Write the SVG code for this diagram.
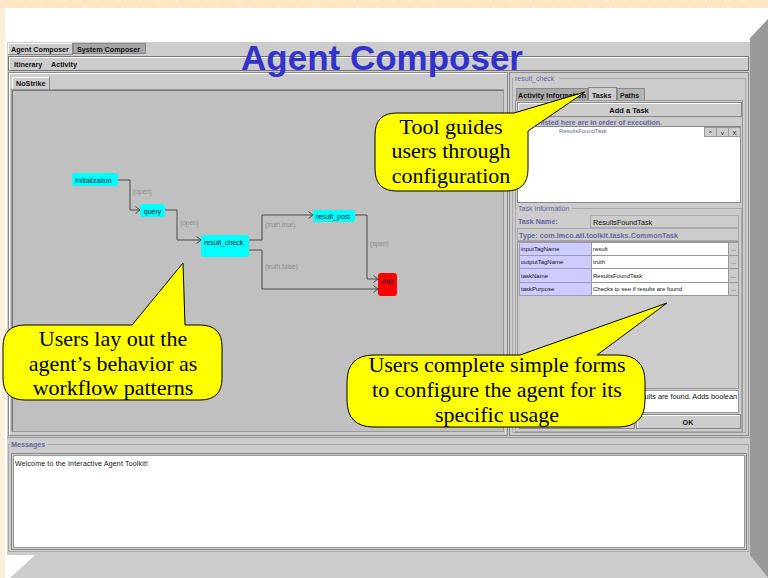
<svg xmlns="http://www.w3.org/2000/svg" width="768" height="578" viewBox="0 0 768 578">
<defs>
<style>
.ui{font-family:"Liberation Sans",Arial,sans-serif;fill:#111;}
.b{font-weight:bold;}
.blue{fill:#6666A0;}
.lbl{font-family:"Liberation Sans",Arial,sans-serif;font-size:6.5px;fill:#8c8c8c;}
.node text{font-family:"Liberation Sans",Arial,sans-serif;font-size:7px;fill:#102030;}
.cyan{fill:#00FFFF;}
.conn path{fill:none;stroke:#4a4a4a;stroke-width:1;}
.call{fill:#FFFF00;stroke:#000;stroke-width:1;}
.ct{font-family:"Liberation Serif","Times New Roman",serif;font-size:22px;fill:#000;text-anchor:middle;}
.pn{fill:#CCCCCC;stroke:#8a8a8a;stroke-width:1;}
.hl{fill:none;stroke:#FFFFFF;stroke-width:1;}
.cell1{fill:#CCCCFF;stroke:#9a9ab0;stroke-width:1;}
.cell2{fill:#FFFFFF;stroke:#999;stroke-width:1;}
.cell3{fill:#CCCCCC;stroke:#999;stroke-width:1;}
</style>
<pattern id="stripes" width="16" height="16" patternUnits="userSpaceOnUse" patternTransform="rotate(-35)">
<rect width="16" height="16" fill="#FFE6C2"/>
<rect width="1.5" height="16" fill="#FFEED8"/>
</pattern>
<marker id="arr" markerWidth="6" markerHeight="8" refX="5" refY="4" orient="auto" markerUnits="userSpaceOnUse">
<path d="M0.5,0.5 L5,4 L0.5,7.5" fill="none" stroke="#4a4a4a" stroke-width="1"/>
</marker>
</defs>

<!-- slide background -->
<rect width="768" height="578" fill="#FFF0DC"/>
<rect x="0" y="0" width="768" height="8" fill="url(#stripes)"/>
<rect x="5" y="8" width="763" height="570" fill="#FFFFFF"/>
<polygon points="750,38 768,19 768,578 750,556" fill="#999999"/>
<polygon points="35,555 750,555 768,578 10,578" fill="#CCCCCC"/>

<!-- application window -->
<rect x="7" y="42" width="743" height="513" fill="#CCCCCC"/>
<!-- top tabs -->
<rect x="8.5" y="43.5" width="64" height="11" fill="#CCCCCC" stroke="#888"/>
<path d="M8.5,54 V43.5 H72" class="hl"/>
<rect x="73.5" y="43.5" width="72" height="10" fill="#A6A6A6" stroke="#888"/>
<text class="ui b" x="11" y="51.5" font-size="7.2">Agent Composer</text>
<text class="ui b" x="77" y="51.5" font-size="7.2">System Composer</text>
<!-- menu bar -->
<rect x="8.5" y="56.5" width="740" height="14" fill="#CCCCCC" stroke="#777"/>
<path d="M9.5,70 V57.5 H748" class="hl"/>
<text class="ui b" x="14" y="67" font-size="7.2">Itinerary</text>
<text class="ui b" x="51" y="67" font-size="7.2">Activity</text>

<!-- left panel -->
<rect x="8.5" y="72.5" width="499" height="363" class="pn"/>
<path d="M9.5,435 V73.5 H507" class="hl"/>
<rect x="12.5" y="77.5" width="37" height="12" fill="#CCCCCC" stroke="#888"/>
<path d="M12.5,89 V77.5 H49" class="hl"/>
<text class="ui b" x="16" y="86" font-size="7.2">NoStrike</text>
<rect x="11.5" y="89.5" width="492" height="342" fill="#C0C0C0" stroke="#999"/>
<path d="M12.5,431 V90.5 H503" fill="none" stroke="#777"/>

<!-- title -->
<text x="382" y="70" text-anchor="middle" font-family="'Liberation Sans',Arial,sans-serif" font-weight="bold" font-size="35" fill="#3333CC">Agent Composer</text>

<!-- connectors -->
<g id="connectors" class="conn">
<path d="M118,180 H130 V210 H140" marker-end="url(#arr)"/>
<path d="M165,210 H177 V240 H201" marker-end="url(#arr)"/>
<path d="M249,240 H262 V215 H313" marker-end="url(#arr)"/>
<path d="M249,250 H262 V289 H378" marker-end="url(#arr)"/>
<path d="M355,215 H367 V279 H378" marker-end="url(#arr)"/>
</g>
<g id="edge-labels">
<text class="lbl" x="133" y="194">(open)</text>
<text class="lbl" x="180" y="225">(open)</text>
<text class="lbl" x="265" y="227">(truth,true)</text>
<text class="lbl" x="265" y="269">(truth,false)</text>
<text class="lbl" x="370" y="246">(open)</text>
</g>

<!-- nodes -->
<g id="node-initialization" class="node">
<rect x="72" y="173" width="46" height="13" rx="2" class="cyan"/>
<text x="75" y="183">Initialization</text>
</g>
<g id="node-query" class="node">
<rect x="140" y="204" width="25" height="13" rx="2" class="cyan"/>
<text x="152.5" y="214" text-anchor="middle">query</text>
</g>
<g id="node-result_check" class="node">
<rect x="201" y="235" width="48" height="22" rx="2" class="cyan"/>
<text x="204" y="245">result_check</text>
</g>
<g id="node-result_post" class="node">
<rect x="313" y="210" width="42" height="12" rx="2" class="cyan"/>
<text x="316" y="219">result_post</text>
</g>
<g id="node-halt" class="node">
<rect x="378" y="273" width="19" height="23" rx="3" fill="#FF0000"/>
<text x="381" y="284">Halt</text>
</g>

<!-- right panel -->
<g id="right-panel">
<rect x="509.5" y="72.5" width="239" height="363" class="pn"/>
<rect x="512.5" y="78.5" width="233" height="354" fill="none" stroke="#AAAAAA"/>
<rect x="514" y="74" width="45" height="8" fill="#CCCCCC"/>
<text class="ui blue" x="515" y="81" font-size="7">result_check</text>
<rect x="516.5" y="88.5" width="71" height="12" fill="#A8A8A8" stroke="#888"/>
<rect x="588.5" y="87.5" width="28" height="13" fill="#CCCCCC" stroke="#888"/>
<rect x="617.5" y="88.5" width="27" height="12" fill="#B4B4B4" stroke="#888"/>
<text class="ui b" x="518" y="97.5" font-size="7" textLength="68">Activity Information</text>
<text class="ui b" x="592" y="97.5" font-size="7">Tasks</text>
<text class="ui b" x="620" y="97.5" font-size="7">Paths</text>
<rect x="515.5" y="100.5" width="227" height="332" fill="#CCCCCC" stroke="#999"/>
<rect x="517.5" y="102.5" width="224" height="14" fill="#CCCCCC" stroke="#888"/>
<path d="M518.5,116 V103.5 H741" class="hl"/>
<text class="ui b" x="629" y="112.5" font-size="7.5" text-anchor="middle">Add a Task</text>
<text class="ui b blue" x="519" y="124.5" font-size="7" textLength="143">Tasks listed here are in order of execution.</text>
<rect x="517.5" y="126.5" width="223" height="76" fill="#FFFFFF" stroke="#888"/>
<text class="ui" x="559" y="133" font-size="5.8" style="fill:#6666AA">ResultsFoundTask</text>
<rect x="704.5" y="127.5" width="12" height="9" class="cell3"/>
<rect x="716.5" y="127.5" width="12" height="9" class="cell3"/>
<rect x="728.5" y="127.5" width="12" height="9" class="cell3"/>
<text class="ui" x="710.5" y="135" font-size="6" text-anchor="middle">^</text>
<text class="ui" x="722.5" y="135" font-size="6" text-anchor="middle">v</text>
<text class="ui" x="734.5" y="135" font-size="6" text-anchor="middle">X</text>

<rect x="515.5" y="208.5" width="226" height="223" fill="none" stroke="#AAAAAA"/>
<rect x="517" y="205" width="55" height="8" fill="#CCCCCC"/>
<text class="ui blue" x="518" y="211" font-size="7">Task Information</text>
<text class="ui b blue" x="518" y="224" font-size="7.2">Task Name:</text>
<rect x="590.5" y="215.5" width="148" height="12" fill="#CCCCCC" stroke="#AAA"/>
<text class="ui" x="593" y="224.5" font-size="7.2">ResultsFoundTask</text>
<rect x="517.5" y="228.5" width="221" height="12" fill="#CCCCCC" stroke="#AAA"/>
<text class="ui b blue" x="519" y="237.5" font-size="7.2" textLength="159">Type: com.lmco.atl.toolkit.tasks.CommonTask</text>
<rect x="517.5" y="241.5" width="221" height="147" fill="#CCCCCC" stroke="#999"/>

<rect x="519.5" y="242.5" width="72" height="13" class="cell1"/>
<rect x="591.5" y="242.5" width="137" height="13" class="cell2"/>
<rect x="728.5" y="242.5" width="10" height="13" class="cell3"/>
<rect x="519.5" y="255.5" width="72" height="13" class="cell1"/>
<rect x="591.5" y="255.5" width="137" height="13" class="cell2"/>
<rect x="728.5" y="255.5" width="10" height="13" class="cell3"/>
<rect x="519.5" y="268.5" width="72" height="14" class="cell1"/>
<rect x="591.5" y="268.5" width="137" height="14" class="cell2"/>
<rect x="728.5" y="268.5" width="10" height="14" class="cell3"/>
<rect x="519.5" y="282.5" width="72" height="13" class="cell1"/>
<rect x="591.5" y="282.5" width="137" height="13" class="cell2"/>
<rect x="728.5" y="282.5" width="10" height="13" class="cell3"/>
<g class="ui" font-size="6">
<text x="521" y="251">inputTagName</text>
<text x="593" y="251">result</text>
<text x="731" y="251">...</text>
<text x="521" y="264">outputTagName</text>
<text x="593" y="264">truth</text>
<text x="731" y="264">...</text>
<text x="521" y="278">taskName</text>
<text x="593" y="278">ResultsFoundTask</text>
<text x="731" y="278">...</text>
<text x="521" y="291">taskPurpose</text>
<text x="593" y="291">Checks to see if results are found</text>
<text x="731" y="291">...</text>
</g>
<rect x="519.5" y="390.5" width="219" height="22" fill="#FFFFFF" stroke="#999"/>
<text class="ui" x="737" y="398.5" font-size="7.3" text-anchor="end">Checks to see if results are found. Adds boolean</text>
<rect x="519.5" y="414.5" width="115" height="14" fill="#CCCCCC" stroke="#888"/>
<rect x="636.5" y="414.5" width="104" height="14" fill="#CCCCCC" stroke="#888"/>
<path d="M637.5,428 V415.5 H740" class="hl"/>
<text class="ui b" x="688" y="424.5" font-size="7.2" text-anchor="middle">OK</text>
</g>

<!-- messages -->
<g id="messages">
<rect x="8.5" y="444.5" width="740" height="107" fill="#CCCCCC" stroke="#AAAAAA"/>
<path d="M7,437.5 H750" stroke="#999" fill="none"/>
<rect x="10" y="440" width="38" height="8" fill="#CCCCCC"/>
<text class="ui b blue" x="11" y="447" font-size="7.2">Messages</text>
<rect x="11.5" y="453.5" width="735" height="96" fill="#CCCCCC" stroke="#888"/>
<rect x="13.5" y="455.5" width="731" height="92" fill="#FFFFFF" stroke="#999"/>
<text class="ui" x="15" y="466" font-size="7" textLength="133">Welcome to the Interactive Agent Toolkit!</text>
</g>

<!-- callouts -->
<g id="callout-layout">
<path class="call" d="M25,325 H132 L183,263 L185,325 H200 Q222,325 222,347 V378 Q222,400 200,400 H25 Q3,400 3,378 V347 Q3,325 25,325 Z"/>
<text class="ct" x="113" y="346">Users lay out the</text>
<text class="ct" x="113" y="371">agent’s behavior as</text>
<text class="ct" x="113" y="395">workflow patterns</text>
</g>
<g id="callout-guides">
<path class="call" d="M397,113 H514 L585,92 L528,131 V169 Q528,191 506,191 H397 Q375,191 375,169 V135 Q375,113 397,113 Z"/>
<text class="ct" x="451" y="134">Tool guides</text>
<text class="ct" x="451" y="158">users through</text>
<text class="ct" x="451" y="183">configuration</text>
</g>
<g id="callout-forms">
<path class="call" d="M374,355 H520 L667,303 L597,355 H618 Q645,355 645,382 V400 Q645,427 618,427 H374 Q347,427 347,400 V382 Q347,355 374,355 Z"/>
<text class="ct" x="497" y="372">Users complete simple forms</text>
<text class="ct" x="497" y="397">to configure the agent for its</text>
<text class="ct" x="497" y="422">specific usage</text>
</g>
</svg>
